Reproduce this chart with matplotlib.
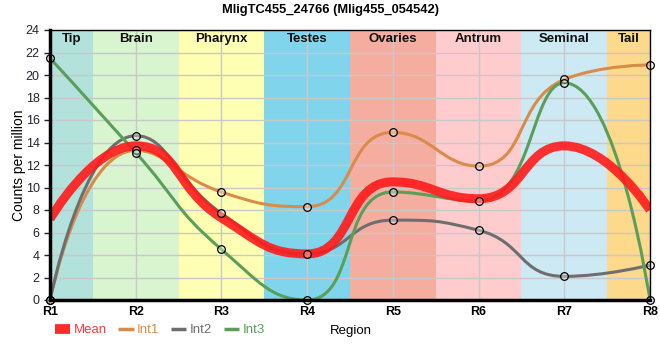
import numpy as np
import matplotlib
matplotlib.use("Agg")
import matplotlib.pyplot as plt
from matplotlib.lines import Line2D
from matplotlib.path import Path
from matplotlib.patches import PathPatch

plt.rcParams['font.family'] = ['Liberation Sans', 'DejaVu Sans']

regions = ["R1", "R2", "R3", "R4", "R5", "R6", "R7", "R8"]
int1 = [0.0, 13.3, 9.6, 8.3, 14.9, 11.9, 19.6, 20.9]
int2 = [0.0, 14.6, 7.7, 4.1, 7.1, 6.2, 2.1, 3.1]
int3 = [21.5, 13.1, 4.5, 0.0, 9.6, 8.8, 19.3, 0.0]
mean = [7.2, 13.7, 7.3, 4.1, 10.5, 9.0, 13.7, 8.0]

band_names = ["Tip", "Brain", "Pharynx", "Testes", "Ovaries", "Antrum", "Seminal", "Tail"]
band_colors = ["#b3e2dd", "#d8f5cf", "#ffffb4", "#80d5ec", "#f5ad9f", "#ffcccd", "#cdeaf4", "#fdd98b"]


def smooth_path(ax, xs, ys, smooth=0.5):
    """Smoothed line (ECharts-like bezier smoothing) computed in display space."""
    pts = ax.transData.transform(np.column_stack([xs, ys]).astype(float))
    n = len(pts)
    verts = [tuple(pts[0])]
    codes = [Path.MOVETO]
    cp0 = tuple(pts[0])
    for i in range(1, n):
        x, y = pts[i]
        prevX, prevY = pts[i - 1]
        nextCp0 = None
        if i == n - 1:
            cp1 = (x, y)
        else:
            nextX, nextY = pts[i + 1]
            vx = nextX - prevX; vy = nextY - prevY
            dx0 = x - prevX; dx1 = nextX - x
            dy0 = y - prevY; dy1 = nextY - y
            lp = np.hypot(dx0, dy0); ln = np.hypot(dx1, dy1)
            r = ln / (ln + lp)
            ncx = x + vx * smooth * r
            ncy = y + vy * smooth * r
            ncx = min(ncx, max(nextX, x)); ncy = min(ncy, max(nextY, y))
            ncx = max(ncx, min(nextX, x)); ncy = max(ncy, min(nextY, y))
            vx = ncx - x; vy = ncy - y
            c1x = x - vx * lp / ln; c1y = y - vy * lp / ln
            c1x = min(c1x, max(prevX, x)); c1y = min(c1y, max(prevY, y))
            c1x = max(c1x, min(prevX, x)); c1y = max(c1y, min(prevY, y))
            vx = x - c1x; vy = y - c1y
            ncx = x + vx * ln / lp; ncy = y + vy * ln / lp
            cp1 = (c1x, c1y)
            nextCp0 = (ncx, ncy)
        verts += [cp0, cp1, (x, y)]
        codes += [Path.CURVE4] * 3
        cp0 = nextCp0
    data_verts = ax.transData.inverted().transform(np.array(verts))
    return Path(data_verts, codes)


fig = plt.figure(figsize=(6.6, 3.6), dpi=100)
ax = fig.add_axes([50 / 660, 60 / 360, 600 / 660, 270 / 360])
x = np.arange(len(regions))

for i, (nm, c) in enumerate(zip(band_names, band_colors)):
    lo = max(i - 0.5, 0); hi = min(i + 0.5, len(regions) - 1)
    ax.axvspan(lo, hi, color=c, lw=0, zorder=0)
    ax.text((lo + hi) / 2, 23.2, nm, ha='center', va='center', fontsize=9.5,
            fontweight='bold', color='#111111', zorder=5)

ax.set_xlim(0, len(regions) - 1)
ax.set_ylim(0, 24)
ax.set_yticks(np.arange(0, 25, 2))
ax.set_xticks(x)
ax.set_xticklabels(regions, fontweight='bold', fontsize=9)
ax.tick_params(axis='y', labelsize=9, length=4, width=1, colors='#222233')
ax.tick_params(axis='x', length=0, pad=4)
ax.grid(True, color='#c8c8c8', lw=1, zorder=1)
ax.set_axisbelow(True)

series = [("Int1", int1, "#d98c4a"), ("Int2", int2, "#6e6e6e"), ("Int3", int3, "#5a9e5a")]
for nm, ys, c in series:
    ax.add_patch(PathPatch(smooth_path(ax, x, ys), fc='none', ec=c, lw=2.2, zorder=3,
                           capstyle='butt'))
ax.add_patch(PathPatch(smooth_path(ax, x, mean), fc='none', ec='#ff1a1a', lw=6.5, alpha=0.9,
                       zorder=4, capstyle='butt'))
for nm, ys, c in series:
    ax.plot(x, ys, ls='none', marker='o', ms=5.5, mfc=(1, 1, 1, 0.35), mec='black',
            mew=0.9, zorder=6, clip_on=False)

for sp in ['top', 'right']:
    ax.spines[sp].set_linewidth(1)
for sp in ['left', 'bottom']:
    ax.spines[sp].set_linewidth(2.5)
for sp in ax.spines.values():
    sp.set_zorder(7)

ax.set_ylabel("Counts per million", fontsize=10)
ax.yaxis.set_label_coords(-(50 - 26) / 600, 0.5)
fig.text(351 / 660, 1 - 331 / 360, "Region", ha='center', va='center', fontsize=9.5)
fig.text(0.5, 1 - 10 / 360, "MligTC455_24766 (Mlig455_054542)", ha='center', va='center',
         fontsize=9.3, fontweight='bold')

handles = [Line2D([0], [0], color='#ff2a2a', lw=7, solid_capstyle='butt'),
           Line2D([0], [0], color='#d98c4a', lw=2.5, solid_capstyle='butt'),
           Line2D([0], [0], color='#6e6e6e', lw=2.5, solid_capstyle='butt'),
           Line2D([0], [0], color='#5a9e5a', lw=2.5, solid_capstyle='butt')]
labels = ["Mean", "Int1", "Int2", "Int3"]
leg = fig.legend(handles, labels, loc='center left', bbox_to_anchor=(55 / 660, 1 - 330 / 360),
                 ncol=4, frameon=False, fontsize=9.5, handlelength=1.15, handletextpad=0.25,
                 columnspacing=0.9, borderaxespad=0, borderpad=0)
for t, c in zip(leg.get_texts(), ['#ff3a3a', '#d98c4a', '#6e6e6e', '#5a9e5a']):
    t.set_color(c)

fig.savefig("out.png", dpi=100)
